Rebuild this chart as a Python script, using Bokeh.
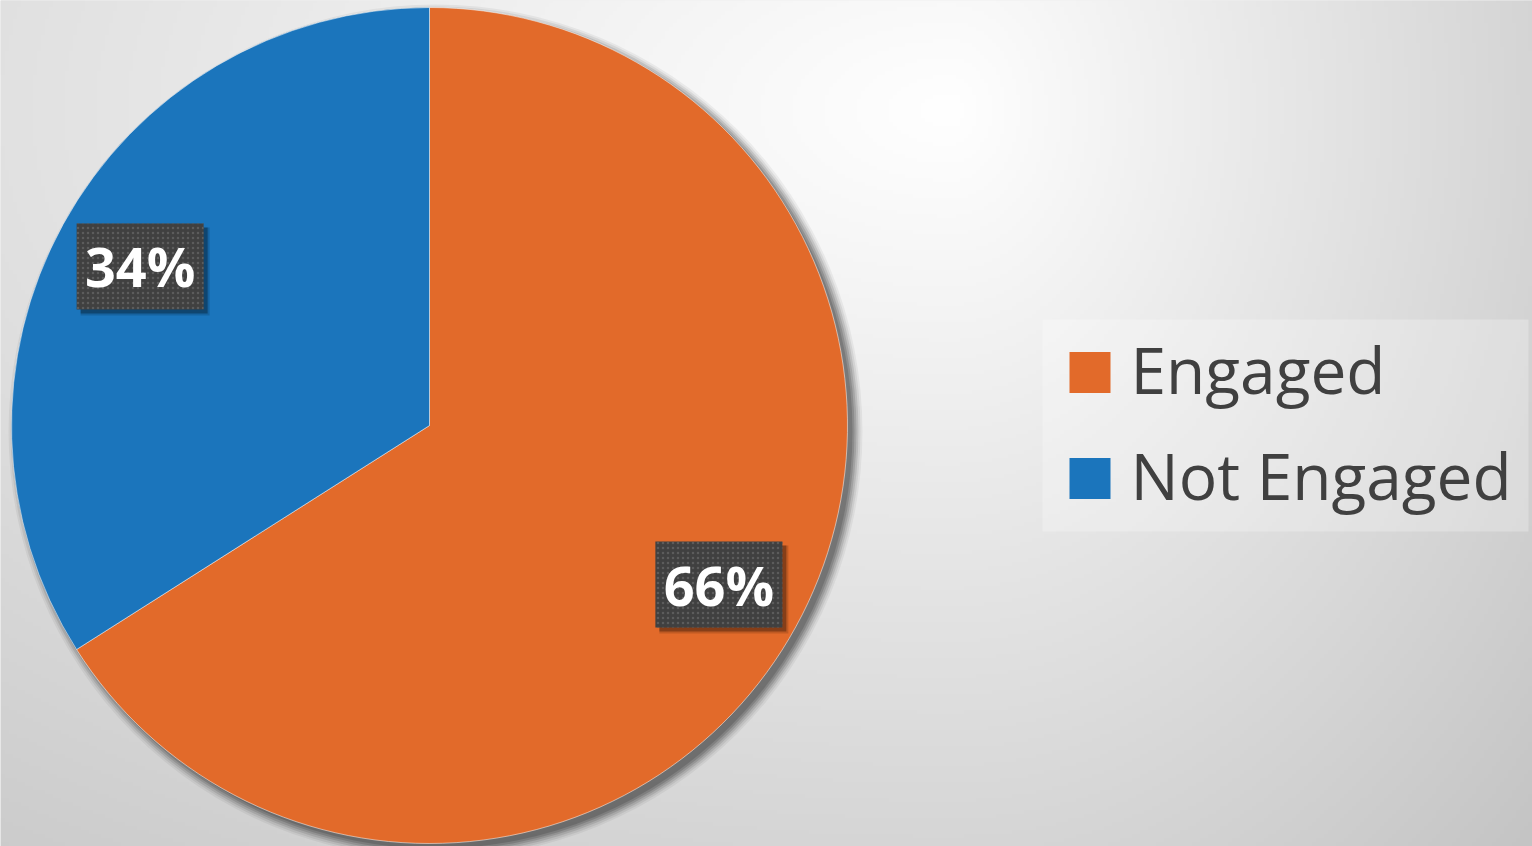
import numpy as np
from bokeh.plotting import figure
from bokeh.models import ColumnDataSource
from bokeh.core.properties import value
from bokeh.embed import file_html
from bokeh.resources import INLINE

# ---- data ----
categories = ["Engaged", "Not Engaged"]
shares = [66, 34]
colors = ["#E26A2A", "#1B75BC"]
pct_labels = ["66%", "34%"]

W, H = 1532, 846
CX, CY, R = 429, H - 425, 418

p = figure(width=W, height=H, x_range=(0, W), y_range=(0, H),
           min_border=0, toolbar_location=None, output_backend="svg")
p.axis.visible = False
p.grid.visible = False
p.outline_line_color = None
p.background_fill_color = "#e2e2e2"
p.border_fill_color = "#e2e2e2"

# ---- background radial gradient ----
S = 4
gw, gh = W // S + 1, H // S + 1
xs = (np.arange(gw) + 0.5) * S
ys_data = (np.arange(gh) + 0.5) * S
X, YD = np.meshgrid(xs, ys_data)
YS = H - YD
dx = X - 950.0
dy = YS - 110.0
kx = np.where(dx < 0, 30.0 / 950.0, 42.0 / 582.0)
ky = 35.0 / 620.0
drop = np.sqrt((dx * kx) ** 2 + (dy * ky) ** 2)
g = np.clip(255 - drop, 0, 255).astype(np.uint8)
img = np.empty((gh, gw), dtype=np.uint32)
view = img.view(dtype=np.uint8).reshape((gh, gw, 4))
view[:, :, 0] = g
view[:, :, 1] = g
view[:, :, 2] = g
view[:, :, 3] = 255
p.image_rgba(image=[img], x=0, y=0, dw=gw * S, dh=gh * S)

# ---- pie shadow ----
for k, a in [(9, 0.05), (7, 0.07), (5, 0.1), (3, 0.12), (1, 0.14), (-1, 0.14)]:
    p.circle(x=CX + 6, y=CY - 6, radius=R + k, fill_color="black",
             fill_alpha=a, line_color=None)

# ---- pie ----
total = float(sum(shares))
fr = np.array(shares) / total
cum = np.concatenate([[0], np.cumsum(fr)])
start = np.pi / 2 - cum[:-1] * 2 * np.pi
end = np.pi / 2 - cum[1:] * 2 * np.pi
mid = (start + end) / 2
src = ColumnDataSource(dict(cat=categories, share=shares, color=colors,
                            start=start, end=end))
p.wedge(x=CX, y=CY, radius=R, start_angle="start", end_angle="end",
        direction="clock", fill_color="color", line_color="white",
        line_alpha=0.5, line_width=1, source=src)

# ---- data labels ----
lr = 0.79 * R
lx = CX + lr * np.cos(mid)
ly = CY + lr * np.sin(mid)
lsrc = ColumnDataSource(dict(x=lx, y=ly, t=pct_labels))
bw, bh = 127, 86
p.rect(x=lx + 5, y=ly - 5, width=bw + 2, height=bh + 2, fill_color="black",
       fill_alpha=0.15, line_color=None)
p.rect(x=lx + 4, y=ly - 4, width=bw, height=bh, fill_color="black",
       fill_alpha=0.3, line_color=None)
p.rect(x="x", y="y", width=bw, height=bh, fill_color="#404040", line_color=None,
       hatch_pattern="dot", hatch_color="#5c5c5c", hatch_scale=5, hatch_weight=1,
       source=lsrc)
p.text(x="x", y="y", text="t", text_align="center", text_baseline="middle",
       text_color="white", text_font=value("Open Sans"), text_font_style="bold",
       text_font_size="54px", source=lsrc)

# ---- legend (drawn) ----
leg_x0, leg_y0, leg_w, leg_h = 1042, H - 531, 486, 212
p.rect(x=leg_x0 + leg_w / 2, y=leg_y0 + leg_h / 2, width=leg_w, height=leg_h,
       fill_color="white", fill_alpha=0.25, line_color=None)
sq = 41
row_y = [H - 372, H - 478]
gsrc = ColumnDataSource(dict(x=[1069 + sq / 2] * 2, y=row_y, color=colors,
                             tx=[1130] * 2, ty=[ry + 3 for ry in row_y],
                             t=categories))
p.rect(x="x", y="y", width=sq, height=sq, fill_color="color", line_color=None,
       source=gsrc)
p.text(x="tx", y="ty", text="t", text_align="left", text_baseline="alphabetic",
       text_color="#404040", text_font=value("Open Sans"), text_font_size="64px",
       source=gsrc)

open("out.html", "w").write(file_html(p, INLINE))
